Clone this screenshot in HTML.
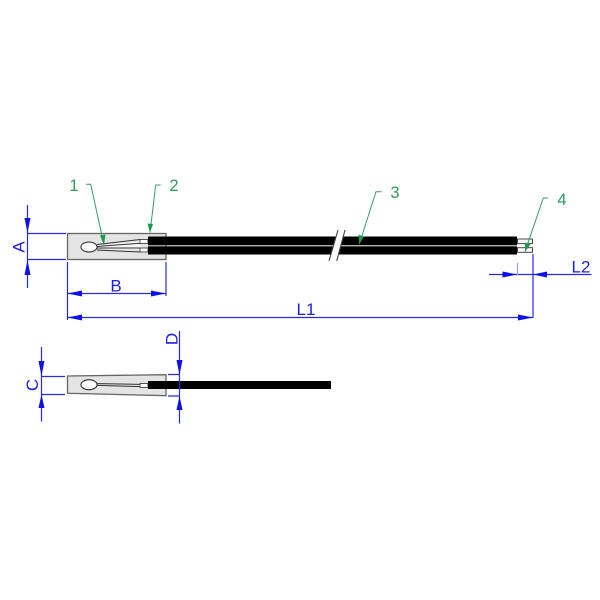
<!DOCTYPE html>
<html>
<head>
<meta charset="utf-8">
<style>
html,body{margin:0;padding:0;background:#fff;width:600px;height:600px;overflow:hidden}
svg{display:block}
text{font-family:"Liberation Sans",sans-serif}
.b{fill:#1c1ce6;text-anchor:middle;font-size:17px}
.g{fill:#2f9a5c;text-anchor:middle;font-size:16.5px}
</style>
</head>
<body>
<svg width="600" height="600" viewBox="0 0 600 600" xmlns="http://www.w3.org/2000/svg">
<!-- top body -->
<rect x="67.5" y="233.5" width="98.5" height="26" fill="#e4e4e4" stroke="#666" stroke-width="1.3"/>
<path d="M97 245.5L140 241.5L140 249.5L97 248.5Z" fill="#fff" opacity="0.7"/>
<ellipse cx="89" cy="247" rx="8" ry="5" fill="#fff" stroke="#333" stroke-width="1.1"/>
<path d="M97 244.5L140 239.5M97 246.5L140 243.2M97 248L140 248M97 250L140 252" stroke="#333" stroke-width="1" fill="none"/>
<rect x="140" y="239.5" width="8" height="4" fill="#fff" stroke="#444" stroke-width="0.9"/>
<rect x="140" y="248" width="8" height="4" fill="#fff" stroke="#444" stroke-width="0.9"/>
<!-- cables -->
<rect x="148" y="236.5" width="369" height="8.8" fill="#000"/>
<rect x="148" y="246.3" width="369" height="8.2" fill="#000"/>
<rect x="517.5" y="239" width="15" height="4.6" fill="#fff" stroke="#444" stroke-width="1"/>
<rect x="517.5" y="247.7" width="15" height="4.6" fill="#fff" stroke="#444" stroke-width="1"/>
<!-- break -->
<polygon points="338,230 345,230 336.7,261 329,261" fill="#fff"/>
<path d="M338 230L329 261M345 230L336.7 261" stroke="#444" stroke-width="1.1" fill="none"/>
<!-- bottom body -->
<polygon points="67.5,376 166,374.7 166,395.7 67.5,393.3" fill="#e4e4e4" stroke="#666" stroke-width="1.3"/>
<ellipse cx="89" cy="384.7" rx="8" ry="5" fill="#fff" stroke="#333" stroke-width="1.1"/>
<path d="M97 383.6L140 384.4M97 385.4L140 386.6" stroke="#333" stroke-width="1" fill="none"/>
<rect x="140" y="383.5" width="8" height="4" fill="#fff" stroke="#444" stroke-width="0.9"/>
<rect x="148" y="381" width="183" height="8" fill="#000"/>
<!-- blue lines -->
<g stroke="#2a2aee" stroke-width="1.2" fill="none">
<path d="M27.5 205V288M27 233.5H66M27 259.5H66"/>
<path d="M67.5 262V320M166 262V296M67 293.5H166"/>
<path d="M67 317.5H533M533 254V318"/>
<path d="M489 274.5H591.5"/>
<path d="M517.5 263V275" stroke="#9a9af0"/>
<path d="M41.5 347V421.5M41 376.5H65M41 394.5H65"/>
<path d="M179.5 331V423.5M168 374.5H180M168 396H180"/>
</g>
<!-- blue arrows -->
<g fill="#1010e8">
<polygon points="27.5,233 24.5,218 30.5,218"/>
<polygon points="27.5,260 24.5,275 30.5,275"/>
<polygon points="67.5,293.5 82,290.5 82,296.5"/>
<polygon points="166,293.5 151,290.5 151,296.5"/>
<polygon points="67.5,317.5 82,314.5 82,320.5"/>
<polygon points="533,317.5 518,314.5 518,320.5"/>
<polygon points="517.5,274.5 502.5,271.5 502.5,277.5"/>
<polygon points="533,274.5 547,271.5 547,277.5"/>
<polygon points="41.5,376 38.5,361 44.5,361"/>
<polygon points="41.5,394.5 38.5,408 44.5,408"/>
<polygon points="179.5,375 176.5,360 182.5,360"/>
<polygon points="179.5,396 176.5,410 182.5,410"/>
</g>
<!-- blue labels -->
<text class="b" x="116" y="291.5">B</text>
<text class="b" x="306" y="315">L1</text>
<text class="b" x="581" y="272.5">L2</text>
<text class="b" transform="translate(24.5,247) rotate(-90)">A</text>
<text class="b" transform="translate(38,385) rotate(-90)">C</text>
<text class="b" transform="translate(177.5,339) rotate(-90)">D</text>
<!-- green leaders -->
<g stroke="#3a9a66" stroke-width="1" fill="none">
<path d="M86 184.3H90.7L104 245"/>
<path d="M160.7 185H155.7L150 232.5"/>
<path d="M381.7 191.7H376L359.3 244"/>
<path d="M548 198H543.3L525 251.7"/>
</g>
<g fill="#1f9a4c">
<polygon points="104,245 100,235.5 105.5,234.5"/>
<polygon points="150,232.5 147.5,223.5 153,224"/>
<polygon points="359.3,244 358.5,234.5 364,236.5"/>
<polygon points="525,251.7 525,242.5 530.5,244.5"/>
</g>
<text class="g" x="74" y="191">1</text>
<text class="g" x="174" y="191">2</text>
<text class="g" x="395" y="198">3</text>
<text class="g" x="562" y="205">4</text>
</svg>
</body>
</html>
